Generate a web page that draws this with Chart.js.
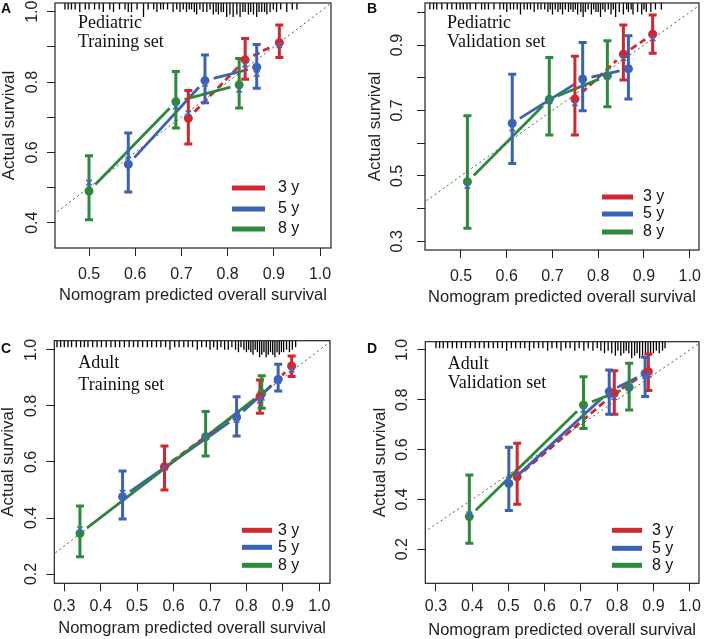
<!DOCTYPE html>
<html>
<head>
<meta charset="utf-8">
<script src="https://cdn.jsdelivr.net/npm/chart.js@4.4.0/dist/chart.umd.min.js"></script>
<style>
  body { margin: 0; background: #fff; width: 709px; height: 639px; position: relative; overflow: hidden;
         font-family: "Liberation Sans", Arial, sans-serif; }
  canvas { position: absolute; }
  .tag { position: absolute; font-weight: bold; font-size: 14px; line-height: 14px; color: #111; }
</style>
</head>
<body>
<canvas id="cA" width="355" height="320" style="left:0;top:0"></canvas>
<canvas id="cB" width="354" height="320" style="left:355px;top:0"></canvas>
<canvas id="cC" width="355" height="319" style="left:0;top:320px"></canvas>
<canvas id="cD" width="354" height="319" style="left:355px;top:320px"></canvas>
<div class="tag" style="left:1px;top:1px">A</div>
<div class="tag" style="left:367px;top:1px">B</div>
<div class="tag" style="left:1px;top:341px">C</div>
<div class="tag" style="left:367px;top:341px">D</div>
<script>
// series: 3 y, 5 y, 8 y
const horizons = ['3 y', '5 y', '8 y'];
const lineColors = ['#d3262d', '#3a62b5', '#2b8a3c'];
const crossColor = '#4468bd';

// A - Pediatric training set
const titleA = ['Pediatric', 'Training set'];
const predA = [[0.715, 0.838, 0.912], [0.585, 0.751, 0.863], [0.500, 0.688, 0.825]];
const obsA  = [[0.697, 0.863, 0.912], [0.566, 0.804, 0.842], [0.490, 0.744, 0.792]];
const lowA  = [[0.624, 0.808, 0.870], [0.487, 0.741, 0.782], [0.408, 0.669, 0.726]];
const highA = [[0.776, 0.924, 0.962], [0.655, 0.877, 0.907], [0.590, 0.830, 0.867]];
const corrA = [[0.711, 0.850, 0.905], [0.579, 0.795, 0.823], [0.514, 0.730, 0.778]];
const rugA  = [0.448, 0.455, 0.462, 0.470, 0.480, 0.492, 0.500, 0.512, 0.522, 0.531, 0.545, 0.553, 0.566, 0.578, 0.585, 0.592, 0.604, 0.618, 0.628, 0.640, 0.647, 0.655, 0.661, 0.670, 0.682, 0.690, 0.697, 0.704, 0.711, 0.717, 0.722, 0.728, 0.733, 0.740, 0.747, 0.755, 0.762, 0.769, 0.775, 0.780, 0.786, 0.791, 0.798, 0.805, 0.812, 0.820, 0.827, 0.833, 0.838, 0.845, 0.850, 0.856, 0.863, 0.868, 0.874, 0.880, 0.885, 0.892, 0.899, 0.906, 0.915, 0.928, 0.940, 0.950];
const rugNA = [1, 1, 1, 1, 2, 1, 1, 1, 1, 2, 1, 2, 1, 1, 2, 2, 1, 4, 1, 1, 2, 1, 1, 1, 2, 1, 2, 1, 2, 1, 1, 2, 3, 1, 2, 2, 1, 3, 2, 3, 2, 2, 4, 3, 4, 3, 4, 2, 2, 3, 2, 3, 4, 2, 2, 2, 3, 2, 1, 2, 1, 2, 1, 1];
const xTicksA = [0.5, 0.6, 0.7, 0.8, 0.9, 1.0];
const yTicksA = [0.4, 0.5, 0.6, 0.7, 0.8, 0.9, 1.0];
const yLabelsA = [0.4, 0.6, 0.8, 1.0];

// B - Pediatric validation set
const titleB = ['Pediatric', 'Validation set'];
const predB = [[0.749, 0.855, 0.919], [0.612, 0.766, 0.866], [0.514, 0.693, 0.820]];
const obsB  = [[0.735, 0.872, 0.933], [0.661, 0.796, 0.827], [0.482, 0.734, 0.806]];
const lowB  = [[0.625, 0.793, 0.875], [0.538, 0.699, 0.735], [0.340, 0.625, 0.711]];
const highB = [[0.866, 0.961, 0.992], [0.811, 0.908, 0.928], [0.684, 0.862, 0.913]];
const corrB = [[0.722, 0.860, 0.920], [0.645, 0.780, 0.830], [0.469, 0.728, 0.808]];
const rugB  = [0.432, 0.440, 0.447, 0.458, 0.470, 0.480, 0.490, 0.498, 0.505, 0.513, 0.520, 0.532, 0.545, 0.552, 0.560, 0.572, 0.585, 0.593, 0.600, 0.608, 0.615, 0.623, 0.630, 0.638, 0.645, 0.652, 0.660, 0.668, 0.675, 0.683, 0.690, 0.695, 0.700, 0.706, 0.712, 0.717, 0.722, 0.728, 0.735, 0.740, 0.745, 0.750, 0.755, 0.762, 0.767, 0.772, 0.778, 0.785, 0.790, 0.795, 0.800, 0.805, 0.810, 0.815, 0.822, 0.828, 0.833, 0.838, 0.846, 0.855, 0.862, 0.866, 0.872, 0.876, 0.886, 0.895, 0.900, 0.905, 0.915, 0.925, 0.938];
const rugNB = [1, 1, 1, 1, 1, 1, 1, 1, 1, 1, 1, 1, 1, 1, 1, 1, 1, 1, 2, 1, 1, 1, 3, 1, 1, 1, 2, 1, 1, 1, 2, 1, 3, 1, 2, 1, 3, 1, 2, 1, 2, 1, 3, 2, 4, 2, 1, 3, 1, 2, 2, 4, 1, 2, 1, 3, 1, 4, 2, 3, 1, 2, 1, 3, 2, 3, 1, 2, 2, 1, 1];
const xTicksB = [0.5, 0.6, 0.7, 0.8, 0.9, 1.0];
const yTicksB = [0.3, 0.4, 0.5, 0.6, 0.7, 0.8, 0.9, 1.0];
const yLabelsB = [0.3, 0.5, 0.7, 0.9];

// C - Adult training set
const titleC = ['Adult', 'Training set'];
const predC = [[0.575, 0.837, 0.924], [0.460, 0.773, 0.887], [0.343, 0.688, 0.842]];
const obsC  = [[0.583, 0.833, 0.943], [0.476, 0.760, 0.895], [0.345, 0.690, 0.845]];
const lowC  = [[0.500, 0.774, 0.905], [0.396, 0.693, 0.854], [0.262, 0.621, 0.792]];
const highC = [[0.657, 0.893, 0.979], [0.568, 0.833, 0.949], [0.443, 0.780, 0.908]];
const corrC = [[0.580, 0.820, 0.930], [0.490, 0.750, 0.890], [0.360, 0.690, 0.830]];
const rugC  = [0.280, 0.290, 0.300, 0.310, 0.320, 0.333, 0.345, 0.355, 0.365, 0.378, 0.390, 0.402, 0.415, 0.428, 0.440, 0.452, 0.465, 0.478, 0.490, 0.502, 0.515, 0.528, 0.540, 0.553, 0.565, 0.578, 0.590, 0.603, 0.615, 0.628, 0.640, 0.652, 0.665, 0.677, 0.690, 0.700, 0.710, 0.720, 0.730, 0.740, 0.750, 0.760, 0.770, 0.778, 0.785, 0.793, 0.800, 0.806, 0.812, 0.818, 0.824, 0.830, 0.836, 0.842, 0.848, 0.854, 0.860, 0.866, 0.872, 0.878, 0.884, 0.890, 0.896, 0.902, 0.910, 0.918, 0.926, 0.935];
const rugNC = [1, 1, 1, 1, 1, 1, 1, 1, 1, 1, 1, 1, 1, 1, 1, 1, 1, 1, 1, 1, 1, 1, 1, 1, 1, 1, 2, 1, 1, 1, 1, 1, 2, 1, 1, 2, 1, 2, 1, 2, 2, 1, 2, 3, 1, 2, 3, 2, 3, 4, 2, 3, 5, 4, 3, 5, 4, 3, 4, 5, 3, 4, 3, 3, 2, 3, 2, 1];
const xTicksC = [0.3, 0.4, 0.5, 0.6, 0.7, 0.8, 0.9, 1.0];
const yTicksC = [0.2, 0.4, 0.6, 0.8, 1.0];
const yLabelsC = [0.2, 0.4, 0.6, 0.8, 1.0];

// D - Adult validation set
const titleD = ['Adult', 'Validation set'];
const predD = [[0.524, 0.792, 0.886], [0.501, 0.778, 0.877], [0.392, 0.707, 0.833]];
const obsD  = [[0.491, 0.826, 0.913], [0.464, 0.833, 0.906], [0.331, 0.779, 0.850]];
const lowD  = [[0.380, 0.742, 0.837], [0.355, 0.742, 0.813], [0.224, 0.685, 0.759]];
const highD = [[0.625, 0.917, 0.984], [0.609, 0.920, 0.971], [0.498, 0.893, 0.947]];
const corrD = [[0.500, 0.810, 0.900], [0.480, 0.820, 0.895], [0.340, 0.760, 0.850]];
const rugD  = [0.300, 0.310, 0.320, 0.332, 0.345, 0.357, 0.370, 0.382, 0.395, 0.408, 0.420, 0.433, 0.445, 0.458, 0.470, 0.483, 0.495, 0.508, 0.520, 0.533, 0.545, 0.558, 0.570, 0.583, 0.595, 0.608, 0.620, 0.633, 0.645, 0.658, 0.670, 0.683, 0.695, 0.708, 0.720, 0.733, 0.745, 0.755, 0.765, 0.775, 0.785, 0.795, 0.802, 0.810, 0.818, 0.825, 0.832, 0.840, 0.848, 0.855, 0.862, 0.870, 0.878, 0.885, 0.892, 0.900, 0.908, 0.916, 0.925, 0.932];
const rugND = [1, 1, 1, 1, 1, 1, 1, 1, 1, 1, 1, 1, 1, 1, 1, 1, 2, 1, 1, 1, 1, 2, 1, 1, 1, 2, 1, 1, 2, 1, 1, 2, 1, 2, 1, 2, 1, 2, 3, 2, 3, 4, 2, 4, 3, 2, 3, 5, 4, 3, 5, 4, 3, 5, 4, 3, 2, 3, 2, 1];
const xTicksD = [0.3, 0.4, 0.5, 0.6, 0.7, 0.8, 0.9, 1.0];
const yTicksD = [0.2, 0.4, 0.6, 0.8, 1.0];
const yLabelsD = [0.2, 0.4, 0.6, 0.8, 1.0];

Chart.defaults.font.family = '"Liberation Sans", Arial, sans-serif';
Chart.defaults.color = '#222';

// draws rug, gapped connecting lines, error bars, frame, legend and panel title
function decoPlugin(d, lay) {
  return {
    id: 'deco',
    beforeDatasetsDraw(chart) {
      const { ctx, chartArea: a, scales: { x, y } } = chart;
      ctx.save();
      ctx.strokeStyle = '#000';
      ctx.lineWidth = 1.3;
      d.rug.forEach((v, i) => {
        const px = x.getPixelForValue(v);
        ctx.beginPath();
        ctx.moveTo(px, a.top);
        ctx.lineTo(px, a.top + 4 + d.rugN[i] * 2.5);
        ctx.stroke();
      });
      d.pred.forEach((ps, s) => {
        ctx.strokeStyle = lineColors[s];
        ctx.lineWidth = 2.8;
        ctx.setLineDash(s === 0 ? [7, 4] : []);
        for (let j = 0; j < ps.length - 1; j++) {
          const x1 = x.getPixelForValue(ps[j]), y1 = y.getPixelForValue(d.obs[s][j]);
          const x2 = x.getPixelForValue(ps[j + 1]), y2 = y.getPixelForValue(d.obs[s][j + 1]);
          const g = 9 / Math.hypot(x2 - x1, y2 - y1);
          ctx.beginPath();
          ctx.moveTo(x1 + (x2 - x1) * g, y1 + (y2 - y1) * g);
          ctx.lineTo(x2 - (x2 - x1) * g, y2 - (y2 - y1) * g);
          ctx.stroke();
        }
      });
      ctx.setLineDash([]);
      d.pred.forEach((ps, s) => {
        ctx.strokeStyle = lineColors[s];
        ctx.lineWidth = 3;
        ps.forEach((p, j) => {
          const px = x.getPixelForValue(p);
          const lo = y.getPixelForValue(d.low[s][j]), hi = y.getPixelForValue(d.high[s][j]);
          ctx.beginPath();
          ctx.moveTo(px, lo); ctx.lineTo(px, hi);
          ctx.moveTo(px - 4, lo); ctx.lineTo(px + 4, lo);
          ctx.moveTo(px - 4, hi); ctx.lineTo(px + 4, hi);
          ctx.stroke();
        });
      });
      ctx.restore();
    },
    afterDraw(chart) {
      const { ctx, chartArea: a } = chart;
      ctx.save();
      ctx.strokeStyle = '#222';
      ctx.lineWidth = 1.2;
      ctx.strokeRect(a.left, a.top, a.right - a.left, a.bottom - a.top);
      // legend
      horizons.forEach((h, s) => {
        const yy = a.bottom - lay.legRows[s];
        ctx.strokeStyle = lineColors[s];
        ctx.lineWidth = 5;
        ctx.beginPath();
        ctx.moveTo(a.right - lay.legLine[0], yy);
        ctx.lineTo(a.right - lay.legLine[1], yy);
        ctx.stroke();
        ctx.fillStyle = '#111';
        ctx.font = '16px "Liberation Sans", Arial, sans-serif';
        ctx.textBaseline = 'middle';
        ctx.textAlign = 'left';
        ctx.fillText(h, a.right - lay.legText, yy);
      });
      // panel title
      ctx.font = '18px "Liberation Serif", "Times New Roman", serif';
      ctx.textBaseline = 'alphabetic';
      d.title.forEach((t, k) => ctx.fillText(t, a.left + lay.titleX, a.top + lay.titleY[k]));
      ctx.restore();
    }
  };
}

function makePanel(id, d, lay) {
  const cv = document.getElementById(id);
  const W = cv.width, H = cv.height;
  const lo = Math.min(d.xLim[0], d.yLim[0]), hi = Math.max(d.xLim[1], d.yLim[1]);
  const crosses = [];
  d.pred.forEach((ps, s) => ps.forEach((p, j) => crosses.push({ x: p, y: d.corr[s][j] })));

  new Chart(cv, {
    type: 'scatter',
    data: {
      datasets: [
        { data: crosses, pointStyle: 'crossRot', pointRadius: 4, borderColor: crossColor, borderWidth: 1.4, showLine: false },
        ...horizons.map((h, s) => ({
          label: h,
          data: d.pred[s].map((p, j) => ({ x: p, y: d.obs[s][j] })),
          pointRadius: 4.5, backgroundColor: lineColors[s], borderWidth: 0, showLine: false
        })),
        { data: [{ x: lo, y: lo }, { x: hi, y: hi }], showLine: true, borderColor: '#555', borderWidth: 1,
          borderDash: [2, 3], pointRadius: 0 }
      ]
    },
    options: {
      responsive: false,
      animation: false,
      devicePixelRatio: 1,
      layout: { padding: { left: 0, right: W - lay.box[1], top: lay.box[2], bottom: 0 }, autoPadding: false },
      plugins: { legend: { display: false }, tooltip: { enabled: false } },
      scales: {
        x: {
          type: 'linear', min: d.xLim[0], max: d.xLim[1],
          afterBuildTicks: sc => { sc.ticks = d.xTicks.map(v => ({ value: v })); },
          afterFit: sc => { sc.height = H - lay.box[3]; sc.paddingLeft = 0; sc.paddingRight = 0; },
          ticks: { autoSkip: false, maxRotation: 0, padding: lay.xTickPad, font: { size: 16 }, color: '#222',
                   callback: v => v.toFixed(1) },
          grid: { drawOnChartArea: false, tickLength: 8, color: '#222' },
          border: { display: false },
          title: { display: true, text: 'Nomogram predicted overall survival', color: '#222',
                   font: { size: 16.5, lineHeight: 1 }, padding: { top: 0, bottom: lay.xTitlePad } }
        },
        y: {
          type: 'linear', min: d.yLim[0], max: d.yLim[1],
          afterBuildTicks: sc => { sc.ticks = d.yTicks.map(v => ({ value: v })); },
          afterFit: sc => { sc.width = lay.box[0]; sc.paddingTop = 0; sc.paddingBottom = 0; },
          ticks: { autoSkip: false, minRotation: 90, maxRotation: 90, crossAlign: 'center', padding: lay.yTickPad,
                   font: { size: 16 }, color: '#222',
                   callback: v => d.yLabels.some(l => Math.abs(l - v) < 1e-6) ? v.toFixed(1) : '' },
          grid: { drawOnChartArea: false, tickLength: 8, color: '#222' },
          border: { display: false },
          title: { display: true, text: 'Actual survival', color: '#222',
                   font: { size: 17, lineHeight: 1 }, padding: { top: lay.yTitlePad, bottom: 0 } }
        }
      }
    },
    plugins: [decoPlugin(d, lay)]
  });
}

makePanel('cA',
  { title: titleA, pred: predA, obs: obsA, low: lowA, high: highA, corr: corrA, rug: rugA, rugN: rugNA,
    xTicks: xTicksA, yTicks: yTicksA, yLabels: yLabelsA, xLim: [0.4264, 1.0238], yLim: [0.328, 1.0247] },
  { box: [55, 331, 3, 248], xTickPad: 9.4, xTitlePad: 16.7, yTickPad: 2.9, yTitlePad: 0.5,
    legLine: [99, 66], legText: 53, legRows: [60, 39, 19], titleX: 23, titleY: [25, 44] });

makePanel('cB',
  { title: titleB, pred: predB, obs: obsB, low: lowB, high: highB, corr: corrB, rug: rugB, rugN: rugNB,
    xTicks: xTicksB, yTicks: yTicksB, yLabels: yLabelsB, xLim: [0.4213, 1.0203], yLim: [0.2735, 1.0284] },
  { box: [70, 344, 3, 250], xTickPad: 9.4, xTitlePad: 14.7, yTickPad: 7.9, yTitlePad: 11.5,
    legLine: [97, 66], legText: 56, legRows: [53, 36, 18], titleX: 22, titleY: [25, 44] });

makePanel('cC',
  { title: titleC, pred: predC, obs: obsC, low: lowC, high: highC, corr: corrC, rug: rugC, rugN: rugNC,
    xTicks: xTicksC, yTicks: yTicksC, yLabels: yLabelsC, xLim: [0.2726, 1.0293], yLim: [0.1668, 1.0332] },
  { box: [54.3, 330, 20.7, 263.3], xTickPad: 6.1, xTitlePad: 2.7, yTickPad: 3.2, yTitlePad: 0,
    legLine: [88, 58], legText: 52, legRows: [53, 36, 18], titleX: 24, titleY: [27.6, 49.3] });

makePanel('cD',
  { title: titleD, pred: predD, obs: obsD, low: lowD, high: highD, corr: corrD, rug: rugD, rugN: rugND,
    xTicks: xTicksD, yTicks: yTicksD, yLabels: yLabelsD, xLim: [0.2705, 1.0257], yLim: [0.063, 1.0333] },
  { box: [70.3, 344, 21.7, 263.3], xTickPad: 6.1, xTitlePad: 0.7, yTickPad: 3.2, yTitlePad: 16.5,
    legLine: [87, 57], legText: 47, legRows: [53, 35, 18], titleX: 22.4, titleY: [27.6, 46.6] });
</script>
</body>
</html>
